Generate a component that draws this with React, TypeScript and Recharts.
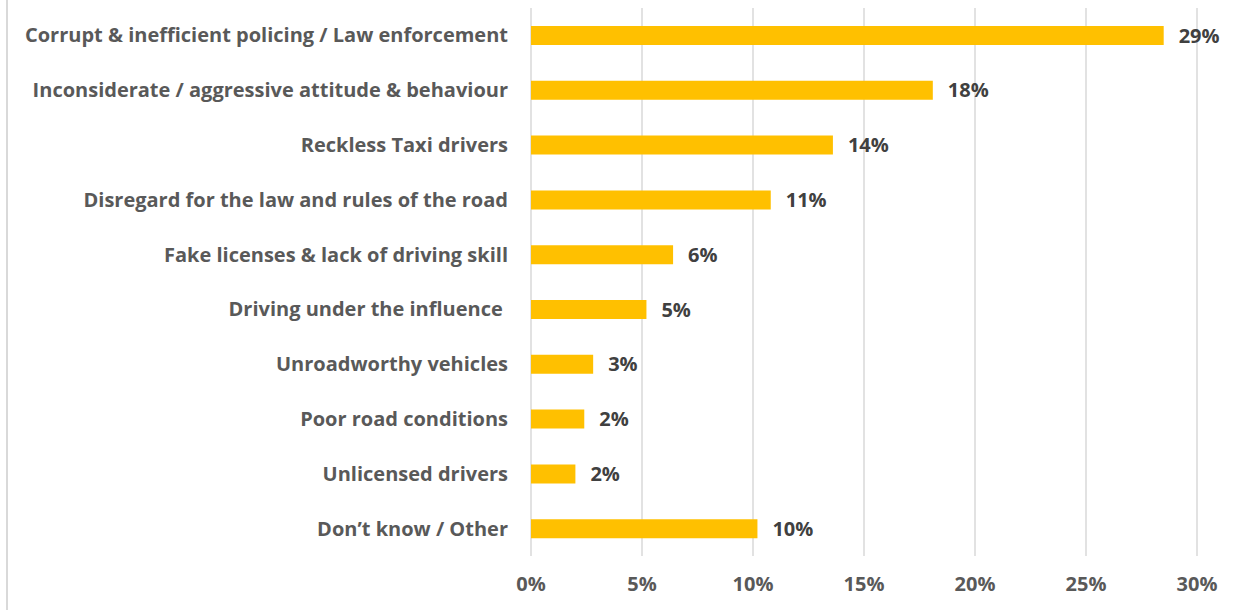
import React from 'react';
import { BarChart, Bar, XAxis, YAxis, CartesianGrid, LabelList } from 'recharts';

const categories = [
  'Corrupt & inefficient policing / Law enforcement',
  'Inconsiderate / aggressive attitude & behaviour',
  'Reckless Taxi drivers',
  'Disregard for the law and rules of the road',
  'Fake licenses & lack of driving skill',
  'Driving under the influence ',
  'Unroadworthy vehicles',
  'Poor road conditions',
  'Unlicensed drivers',
  'Don’t know / Other',
];

const shares = [28.5, 18.1, 13.6, 10.8, 6.4, 5.2, 2.8, 2.4, 2.0, 10.2];

const xTicks = [0, 5, 10, 15, 20, 25, 30];

const data = categories.map((name, i) => ({ name, value: shares[i] }));

const FONT = '"Open Sans", Lato, sans-serif';
const TEXT = '#595959';

const CategoryTick = (props: any) => {
  const { x, y, payload } = props;
  return (
    <text
      x={x}
      y={y}
      dy="0.35em"
      textAnchor="end"
      fill={TEXT}
      fontFamily={FONT}
      fontWeight={700}
      fontSize={20}
      style={{ whiteSpace: 'pre' }}
    >
      {payload.value}
    </text>
  );
};

export default function App() {
  return (
    <div style={{ position: 'absolute', left: 0, top: 0, width: 1244, height: 610, background: '#fff' }}>
      <div style={{ position: 'absolute', left: 6, top: 0, width: 2, height: 610, background: '#d9d9d9' }} />
      <BarChart
        width={1244}
        height={610}
        data={data}
        layout="vertical"
        margin={{ top: 8, right: 47, bottom: 0, left: 0 }}
        barCategoryGap={0}
      >
        <CartesianGrid horizontal={false} vertical stroke="#d9d9d9" strokeWidth={1.5} />
        <XAxis
          type="number"
          domain={[0, 30]}
          ticks={xTicks}
          tickFormatter={(v: number) => `${v}%`}
          axisLine={false}
          tickLine={false}
          tickSize={0}
          tickMargin={21}
          height={54}
          tick={{ fill: TEXT, fontFamily: FONT, fontWeight: 700, fontSize: 20 }}
        />
        <YAxis
          type="category"
          dataKey="name"
          width={531}
          axisLine={false}
          tickLine={false}
          tickSize={0}
          tickMargin={23}
          interval={0}
          tick={<CategoryTick />}
        />
        <Bar dataKey="value" fill="#ffc000" barSize={19} isAnimationActive={false}>
          <LabelList
            dataKey="value"
            position="right"
            offset={15}
            formatter={(v: number) => `${Math.round(v)}%`}
            fill="#404040"
            fontFamily={FONT}
            fontWeight={700}
            fontSize={20}
          />
        </Bar>
      </BarChart>
    </div>
  );
}
